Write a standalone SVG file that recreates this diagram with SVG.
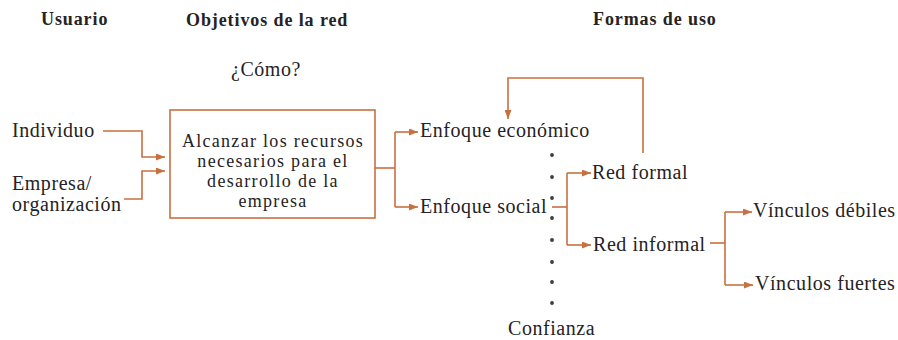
<svg xmlns="http://www.w3.org/2000/svg" width="898" height="340" viewBox="0 0 898 340">
<defs>
<style>
.t{font-family:"Liberation Serif","Times New Roman",serif;font-size:20px;fill:#262223;letter-spacing:0.55px}
.b{font-family:"Liberation Serif","Times New Roman",serif;font-size:18px;fill:#262223;letter-spacing:1.3px}
.h{font-family:"Liberation Serif","Times New Roman",serif;font-size:18px;font-weight:bold;fill:#262223;letter-spacing:0.9px}
.c{fill:none;stroke:#c8703f;stroke-width:1.6}
.a{marker-end:url(#ah)}
.d{fill:#3a3a3a}
</style>
<marker id="ah" markerUnits="userSpaceOnUse" markerWidth="9" markerHeight="7" refX="9" refY="3.5" orient="auto">
<path d="M0,0 L9,3.5 L0,7 z" fill="#c8703f"/>
</marker>
</defs>
<rect width="898" height="340" fill="#ffffff"/>
<g id="titles">
<text class="h" x="41" y="25">Usuario</text>
<text class="h" x="186" y="26">Objetivos de la red</text>
<text class="h" x="593" y="25">Formas de uso</text>
<text class="t" x="231" y="76">¿Cómo?</text>
</g>
<g id="individuo"><text class="t" x="12" y="137">Individuo</text></g>
<g id="empresa"><text class="t" x="12" y="190">Empresa/</text><text class="t" x="12" y="211">organización</text></g>
<g id="objetivo">
<rect x="170" y="110" width="205" height="108" fill="none" stroke="#c8703f" stroke-width="1.6"/>
<text class="b" x="273" y="147" text-anchor="middle">Alcanzar los recursos</text>
<text class="b" x="273" y="167" text-anchor="middle">necesarios para el</text>
<text class="b" x="273" y="187" text-anchor="middle">desarrollo de la</text>
<text class="b" x="273" y="207" text-anchor="middle">empresa</text>
</g>
<g id="economico"><text class="t" x="420" y="137">Enfoque económico</text></g>
<g id="social"><text class="t" x="420" y="213">Enfoque social</text></g>
<g id="redformal"><text class="t" x="592" y="179">Red formal</text></g>
<g id="redinformal"><text class="t" x="593" y="251">Red informal</text></g>
<g id="debiles"><text class="t" x="753" y="217">Vínculos débiles</text></g>
<g id="fuertes"><text class="t" x="755" y="290">Vínculos fuertes</text></g>
<g id="confianza">
<circle class="d" cx="552" cy="155" r="1.9"/>
<circle class="d" cx="552" cy="177" r="1.9"/>
<circle class="d" cx="552" cy="198" r="1.9"/>
<circle class="d" cx="552" cy="218" r="1.9"/>
<circle class="d" cx="552" cy="240" r="1.9"/>
<circle class="d" cx="552" cy="262" r="1.9"/>
<circle class="d" cx="552" cy="282" r="1.9"/>
<circle class="d" cx="552" cy="303" r="1.9"/>
<text class="t" x="508" y="335">Confianza</text>
</g>
<g id="connectors">
<path class="c a" d="M103,131 H142 V157 H165"/>
<path class="c a" d="M124,199 H142 V171 H165"/>
<path class="c" d="M375,168 H395"/>
<path class="c" d="M395,132 V207"/>
<path class="c a" d="M395,132 H418"/>
<path class="c a" d="M395,207 H418"/>
<path class="c a" d="M643,153 V78 H508 V119"/>
<path class="c" d="M552,207 H567"/>
<path class="c" d="M567,173 V245"/>
<path class="c a" d="M567,173 H591"/>
<path class="c a" d="M567,245 H591"/>
<path class="c" d="M710,243 H725"/>
<path class="c" d="M725,212 V285"/>
<path class="c a" d="M725,212 H752"/>
<path class="c a" d="M725,285 H753"/>
</g>
</svg>
